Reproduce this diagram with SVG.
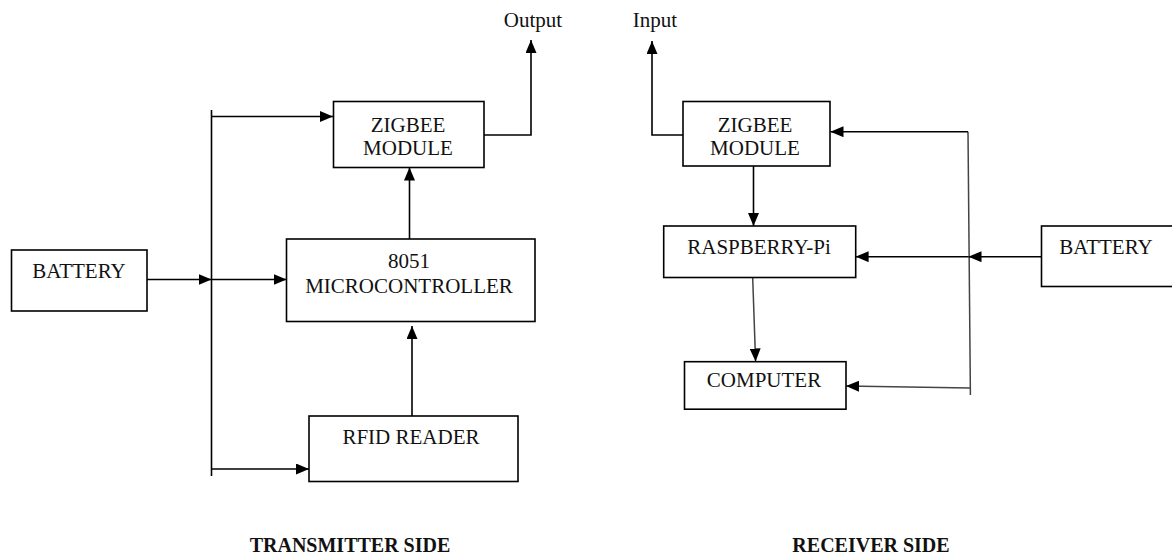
<svg xmlns="http://www.w3.org/2000/svg" width="1172" height="556" viewBox="0 0 1172 556">
<style>
.box{fill:#fff;stroke:#000;stroke-width:1.6}
.t{font-family:"Liberation Serif","Times New Roman",serif;font-size:21px;fill:#111;text-anchor:middle}
.b{font-family:"Liberation Serif","Times New Roman",serif;font-size:20px;font-weight:bold;fill:#111;text-anchor:middle}
.c{fill:none;stroke:#000;stroke-width:1.6}
.g{fill:none;stroke:#444;stroke-width:1.5}
</style>
<defs>
<marker id="ah" markerUnits="userSpaceOnUse" markerWidth="13" markerHeight="11" refX="13" refY="5.5" orient="auto">
<path d="M0,0 L13,5.5 L0,11 Z" fill="#000"/>
</marker>
</defs>
<rect width="1172" height="556" fill="#fff"/>
<g id="connectors">
<line class="c" x1="211.5" y1="110" x2="211.5" y2="476"/>
<line class="c" x1="211.5" y1="116.5" x2="333" y2="116.5" marker-end="url(#ah)"/>
<line class="c" x1="147" y1="279.5" x2="211.5" y2="279.5" marker-end="url(#ah)"/>
<line class="c" x1="211.5" y1="279.5" x2="286.5" y2="279.5" marker-end="url(#ah)"/>
<line class="c" x1="211.5" y1="469" x2="309" y2="469" marker-end="url(#ah)"/>
<line class="c" x1="409.5" y1="239" x2="409.5" y2="167.5" marker-end="url(#ah)"/>
<line class="c" x1="412" y1="416" x2="412" y2="326" marker-end="url(#ah)"/>
<polyline class="c" points="484,135 531,135 531,40" marker-end="url(#ah)"/>
<polyline class="c" points="683,135 652,135 652,41" marker-end="url(#ah)"/>
<line class="c" x1="753.5" y1="165" x2="753.5" y2="226" marker-end="url(#ah)"/>
<line class="g" x1="752.7" y1="278" x2="755.6" y2="361.5" marker-end="url(#ah)"/>
<line class="g" x1="968" y1="131.7" x2="970.4" y2="395"/>
<line class="c" x1="968" y1="131.7" x2="830.5" y2="131.7" marker-end="url(#ah)"/>
<line class="c" x1="1041.5" y1="256.7" x2="968.5" y2="256.7" marker-end="url(#ah)"/>
<line class="c" x1="968.5" y1="256.7" x2="855.6" y2="256.7" marker-end="url(#ah)"/>
<line class="g" x1="970" y1="388" x2="846" y2="386" marker-end="url(#ah)"/>
</g>
<g id="battery-tx">
<rect class="box" x="11.5" y="250" width="135.5" height="61"/>
<text class="t" x="79" y="278">BATTERY</text>
</g>
<g id="zigbee-tx">
<rect class="box" x="333.5" y="101.5" width="150.5" height="66"/>
<text class="t" x="408" y="132">ZIGBEE</text>
<text class="t" x="408" y="155">MODULE</text>
</g>
<g id="micro">
<rect class="box" x="286.5" y="239" width="248.5" height="82.5"/>
<text class="t" x="409" y="268">8051</text>
<text class="t" x="409" y="293">MICROCONTROLLER</text>
</g>
<g id="rfid">
<rect class="box" x="309" y="416" width="209" height="65.5"/>
<text class="t" x="411" y="444">RFID READER</text>
</g>
<g id="output-label">
<text class="t" x="533" y="27">Output</text>
</g>
<g id="input-label">
<text class="t" x="655" y="27">Input</text>
</g>
<g id="zigbee-rx">
<rect class="box" x="683" y="101.5" width="147" height="64.5"/>
<text class="t" x="755" y="132">ZIGBEE</text>
<text class="t" x="755" y="155">MODULE</text>
</g>
<g id="raspberry">
<rect class="box" x="663.7" y="226" width="192" height="51.5"/>
<text class="t" x="759" y="254">RASPBERRY-Pi</text>
</g>
<g id="computer">
<rect class="box" x="684.5" y="361.7" width="161.5" height="47.5"/>
<text class="t" x="764" y="387">COMPUTER</text>
</g>
<g id="battery-rx">
<rect class="box" x="1041.5" y="226" width="140" height="60.5"/>
<text class="t" x="1106" y="254">BATTERY</text>
</g>
<g id="captions">
<text class="b" x="350" y="552">TRANSMITTER SIDE</text>
<text class="b" x="871" y="552">RECEIVER SIDE</text>
</g>
</svg>
